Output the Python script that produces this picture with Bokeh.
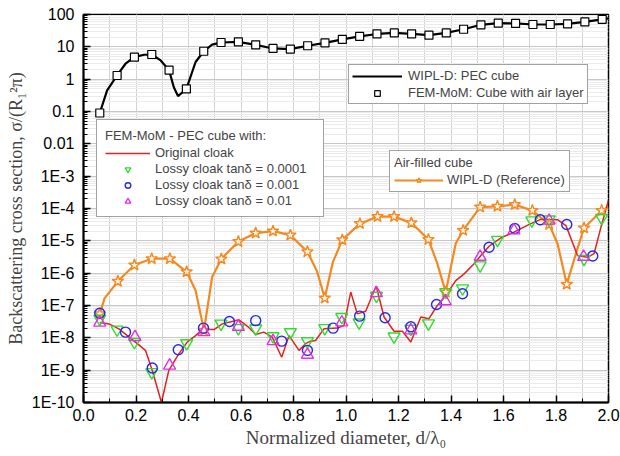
from bokeh.plotting import figure
from bokeh.models import (FixedTicker, SingleIntervalTicker, CustomJSTickFormatter,
                          NumeralTickFormatter, Legend, LegendItem, Range1d)
from bokeh.embed import file_html
from bokeh.resources import INLINE

# ---------------- data ----------------
# WIPL-D: PEC cube (line)
pec_x = [0.062, 0.09, 0.128, 0.16, 0.194, 0.23, 0.26, 0.294, 0.326, 0.344, 0.36, 0.375,
         0.392, 0.427, 0.458, 0.49, 0.524, 0.590, 0.656, 0.722, 0.788, 0.854, 0.920,
         0.986, 1.052, 1.118, 1.184, 1.250, 1.316, 1.382, 1.448, 1.514, 1.580, 1.646,
         1.712, 1.778, 1.844, 1.910, 1.976, 2.0]
pec_y = [0.09, 0.45, 1.3, 3.0, 4.8, 5.7, 5.8, 3.8, 1.9, 0.56, 0.3, 0.38,
         0.5, 3.4, 7.3, 11.7, 13.6, 14.3, 11.5, 8.9, 8.5, 10.8, 13.2,
         17, 21, 25, 27, 25, 23, 27, 35, 48, 54, 53,
         49, 49, 51, 59, 71, 76]
# FEM-MoM: Cube with air layer (squares)
air_x = [0.062, 0.128, 0.194, 0.260, 0.326, 0.392, 0.458, 0.524, 0.590, 0.656, 0.722,
         0.788, 0.854, 0.920, 0.986, 1.052, 1.118, 1.184, 1.250, 1.316, 1.382, 1.448,
         1.514, 1.580, 1.646, 1.712, 1.778, 1.844, 1.910, 1.976]
air_y = [0.09, 1.3, 4.8, 5.8, 1.9, 0.5, 7.3, 13.6, 14.3, 11.5, 8.9,
         8.5, 10.8, 13.2, 17, 21, 25, 27, 25, 23, 27, 35,
         48, 54, 53, 49, 49, 51, 59, 71]

# Air-filled cube, WIPL-D (Reference) line
ref_x = [0.062, 0.08, 0.131, 0.194, 0.26, 0.329, 0.393, 0.427, 0.459, 0.49, 0.525, 0.59,
         0.656, 0.722, 0.788, 0.853, 0.89, 0.919, 0.95, 0.986, 1.053, 1.12, 1.183, 1.249,
         1.314, 1.346, 1.38, 1.418, 1.446, 1.511, 1.577, 1.643, 1.71, 1.774, 1.806, 1.841,
         1.876, 1.907, 1.974, 2.0]
ref_y = [5.5e-8, 1.66e-7, 5.6e-7, 1.78e-6, 2.8e-6, 2.8e-6, 1.1e-6, 2.9e-7, 1.7e-8, 7.6e-7,
         2.75e-6, 9.5e-6, 1.74e-5, 2.0e-5, 1.5e-5, 4.6e-6, 1.12e-6, 1.7e-7, 2.2e-6, 1.07e-5,
         3.4e-5, 5.6e-5, 5.6e-5, 3.6e-5, 1.1e-5, 2.2e-6, 2.6e-7, 8.3e-6, 2.1e-5, 1.1e-4,
         1.17e-4, 1.32e-4, 8.7e-5, 3.2e-5, 8.1e-6, 4.5e-7, 4.1e-6, 2.5e-5, 8.7e-5, 1.1e-4]
# star markers of the reference curve
star_x = [0.062, 0.131, 0.194, 0.26, 0.329, 0.393, 0.459, 0.525, 0.59, 0.656, 0.722, 0.788,
          0.853, 0.919, 0.986, 1.053, 1.12, 1.183, 1.249, 1.314, 1.38, 1.446, 1.511, 1.577,
          1.643, 1.71, 1.774, 1.841, 1.907, 1.974]
star_y = [5.5e-8, 5.6e-7, 1.78e-6, 2.8e-6, 2.8e-6, 1.1e-6, 1.7e-8, 2.75e-6, 9.5e-6, 1.74e-5,
          2.0e-5, 1.5e-5, 4.6e-6, 1.7e-7, 1.07e-5, 3.4e-5, 5.6e-5, 5.6e-5, 3.6e-5, 1.1e-5,
          2.6e-7, 2.1e-5, 1.1e-4, 1.17e-4, 1.32e-4, 8.7e-5, 3.2e-5, 4.5e-7, 2.5e-5, 8.7e-5]

# FEM-MoM - original cloak (red line)
orig_x = [0.062, 0.097, 0.135, 0.198, 0.236, 0.262, 0.297, 0.325, 0.363, 0.395, 0.427, 0.452,
          0.497, 0.529, 0.592, 0.63, 0.656, 0.687, 0.719, 0.755, 0.783, 0.821, 0.846, 0.865,
          0.884, 0.916, 0.967, 0.992, 1.018, 1.043, 1.075, 1.115, 1.145, 1.183, 1.215, 1.247,
          1.285, 1.316, 1.348, 1.38, 1.418, 1.45, 1.488, 1.514, 1.545, 1.59, 1.64, 1.704,
          1.742, 1.806, 1.838, 1.882, 1.92, 1.945, 1.971, 2.0]
orig_y = [3.0e-8, 2.7e-8, 1.9e-8, 7.4e-9, 4.1e-9, 9.8e-10, 1.0e-10, 9.8e-10, 3.2e-9, 7.4e-9,
          1.17e-8, 1.8e-8, 1.8e-8, 2.7e-8, 3.6e-8, 2.1e-8, 1.26e-8, 1.5e-8, 1.05e-8, 2.5e-9,
          1.17e-8, 4.1e-9, 6.6e-9, 7.9e-9, 8.3e-9, 1.9e-8, 2.0e-8, 2.4e-8, 2.6e-7, 5.5e-8,
          6.6e-8, 4.0e-7, 4.4e-8, 1.6e-8, 1.6e-8, 7.4e-9, 4.4e-8, 3.9e-8, 1.0e-7, 2.0e-7,
          5.9e-7, 9.5e-7, 1.95e-6, 3.5e-6, 6.8e-6, 1.23e-5, 1.86e-5, 3.4e-5, 4.6e-5, 4.5e-5,
          2.95e-5, 3.5e-6, 3.1e-6, 4.0e-6, 2.6e-5, 1.8e-4]

# Lossy cloak tan(delta) = 0.0001 (green inverted triangles)
l4_x = [0.062, 0.128, 0.194, 0.26, 0.393, 0.524, 0.59, 0.656, 0.722, 0.788, 0.853, 0.919,
        0.984, 1.05, 1.116, 1.183, 1.247, 1.314, 1.38, 1.444, 1.511, 1.577, 1.708, 1.774,
        1.907, 1.974]
l4_y = [3.9e-8, 1.8e-8, 7.4e-9, 8.7e-10, 6.8e-9, 2.75e-8, 2.0e-8, 1.95e-8, 1.12e-8, 1.5e-8,
        7.9e-9, 2.0e-8, 4.4e-8, 3.0e-8, 2.0e-7, 1.1e-8, 1.9e-8, 2.8e-8, 2.6e-7, 3.4e-7,
        1.74e-6, 1.07e-5, 4.3e-5, 4.6e-5, 2.75e-6, 5.1e-5]
# Lossy cloak tan(delta) = 0.001 (blue circles)
l3_x = [0.062, 0.16, 0.262, 0.361, 0.457, 0.556, 0.656, 0.755, 0.853, 0.951, 1.052, 1.149,
        1.247, 1.345, 1.444, 1.545, 1.643, 1.74, 1.841, 1.94]
l3_y = [5.75e-8, 1.5e-8, 1.17e-9, 4.3e-9, 2.0e-8, 3.2e-8, 3.4e-8, 7.9e-9, 4.1e-9, 2.0e-8,
        4.7e-8, 4.2e-8, 2.2e-8, 1.07e-7, 2.3e-7, 6.3e-6, 2.4e-5, 4.5e-5, 3.2e-5, 3.4e-6]
# Lossy cloak tan(delta) = 0.01 (magenta triangles)
l2_x = [0.062, 0.196, 0.328, 0.459, 0.59, 0.722, 0.853, 0.984, 1.116, 1.247, 1.378, 1.511,
        1.64, 1.774, 1.905]
l2_y = [2.95e-8, 1.05e-8, 1.38e-9, 1.5e-8, 2.2e-8, 7.9e-9, 3.0e-9, 3.0e-8, 2.4e-7, 1.7e-8,
        1.35e-7, 3.2e-6, 2.1e-5, 4.2e-5, 3.2e-6]

y_major = [1e-10, 1e-9, 1e-8, 1e-7, 1e-6, 1e-5, 1e-4, 1e-3, 1e-2, 1e-1, 1, 10, 100]

# ---------------- figure ----------------
p = figure(width=620, height=456, x_range=Range1d(0, 2), y_range=Range1d(1e-10, 100),
           y_axis_type="log", output_backend="svg", toolbar_location=None,
           min_border_left=83, min_border_right=12, min_border_top=14, min_border_bottom=54)
p.outline_line_color = "black"
p.outline_line_width = 1.5
p.background_fill_color = "white"

xt = SingleIntervalTicker(interval=0.2, num_minor_ticks=2)
minor = [k * m for m in y_major[:-1] for k in range(2, 10)]
yt = FixedTicker(ticks=y_major, minor_ticks=minor)
p.xaxis.ticker = xt
p.xgrid.ticker = xt
p.yaxis.ticker = yt
p.ygrid.ticker = yt
p.xaxis.formatter = NumeralTickFormatter(format="0.0")
p.yaxis.formatter = CustomJSTickFormatter(code="""
const e = Math.round(Math.log10(tick));
if (e >= 0) return String(Math.round(Math.pow(10, e)));
if (e == -1) return "0.1";
if (e == -2) return "0.01";
return "1E" + e;
""")

p.xgrid.grid_line_color = "#d2d2d2"
p.xgrid.minor_grid_line_color = "#d2d2d2"
p.ygrid.grid_line_color = "#c8c8c8"
p.ygrid.minor_grid_line_color = "#ebebeb"

for ax in (p.xaxis[0], p.yaxis[0]):
    ax.axis_line_width = 2
    ax.axis_line_color = "black"
    ax.major_tick_in = 7
    ax.major_tick_out = 0
    ax.minor_tick_in = 4
    ax.minor_tick_out = 0
    ax.major_tick_line_width = 1.5
    ax.major_label_text_font = "Liberation Sans"
    ax.major_label_text_font_size = "16px"
    ax.major_label_text_color = "black"
    ax.axis_label_text_font = "Liberation Serif"
    ax.axis_label_text_font_style = "normal"
    ax.axis_label_standoff = 3
p.xaxis.axis_label_text_font_size = "19px"
p.yaxis.axis_label_text_font_size = "18px"
p.xaxis.major_label_standoff = 6
p.yaxis.major_label_standoff = 9
p.xaxis.axis_label = "Normalized diameter, d/λ₀"
p.yaxis.axis_label = "Backscattering cross section, σ/(R₁²π)"

# ---------------- glyphs ----------------
orange = "#f5891f"
r_ref = p.line(ref_x, ref_y, line_color=orange, line_width=2.2)
r_orig = p.line(orig_x, orig_y, line_color="#e32222", line_width=1.5)
r_pec = p.line(pec_x, pec_y, line_color="black", line_width=2.2)
r_star = p.scatter(star_x, star_y, marker="star", size=12, line_color=orange,
                   fill_color="#fff4e6", line_width=1.4)
r_air = p.scatter(air_x, air_y, marker="square", size=8, line_color="black",
                  fill_color="white", line_width=1.2)
r_l4 = p.scatter(l4_x, l4_y, marker="inverted_triangle", size=12, line_color="#2fdc2f",
                 fill_color=None, line_width=1.4)
r_l3 = p.scatter(l3_x, l3_y, marker="circle", size=10, line_color="#2828e8",
                 fill_color=None, line_width=1.4)
r_l2 = p.scatter(l2_x, l2_y, marker="triangle", size=12, line_color="#e62ee6",
                 fill_color=None, line_width=1.4)

# ---------------- legends ----------------
def style(leg):
    leg.border_line_color = "#444444"
    leg.border_line_width = 1
    leg.background_fill_color = "white"
    leg.background_fill_alpha = 1
    leg.label_text_font = "Liberation Sans"
    leg.label_text_font_size = "13px"
    leg.title_text_font = "Liberation Sans"
    leg.title_text_font_size = "13px"
    leg.title_text_font_style = "normal"
    leg.margin = 0
    leg.glyph_height = 14
    leg.label_height = 14

leg1 = Legend(items=[LegendItem(label="WIPL-D: PEC cube", renderers=[r_pec]),
                     LegendItem(label="FEM-MoM: Cube with air layer", renderers=[r_air])],
              location=(265, 298))
style(leg1)
leg1.padding = 3
leg1.spacing = 2
leg1.glyph_width = 50
leg1.label_standoff = 6

leg2 = Legend(title="FEM-MoM - PEC cube with:",
              items=[LegendItem(label="Original cloak", renderers=[r_orig]),
                     LegendItem(label="Lossy cloak tanδ = 0.0001", renderers=[r_l4]),
                     LegendItem(label="Lossy cloak tanδ = 0.001", renderers=[r_l3]),
                     LegendItem(label="Lossy cloak tanδ = 0.01", renderers=[r_l2])],
              location=(13, 185))
style(leg2)
leg2.padding = 8
leg2.spacing = 1
leg2.glyph_width = 45
leg2.label_standoff = 5
leg2.label_width = 160
leg2.title_standoff = 2

leg3 = Legend(title="Air-filled cube",
              items=[LegendItem(label="WIPL-D (Reference)", renderers=[r_ref, r_star])],
              location=(306, 210))
style(leg3)
leg3.padding = 4
leg3.glyph_width = 49
leg3.label_standoff = 4
leg3.title_standoff = 2

for lg in (leg1, leg2, leg3):
    p.add_layout(lg, "center")

open("out.html", "w").write(file_html(p, INLINE))
